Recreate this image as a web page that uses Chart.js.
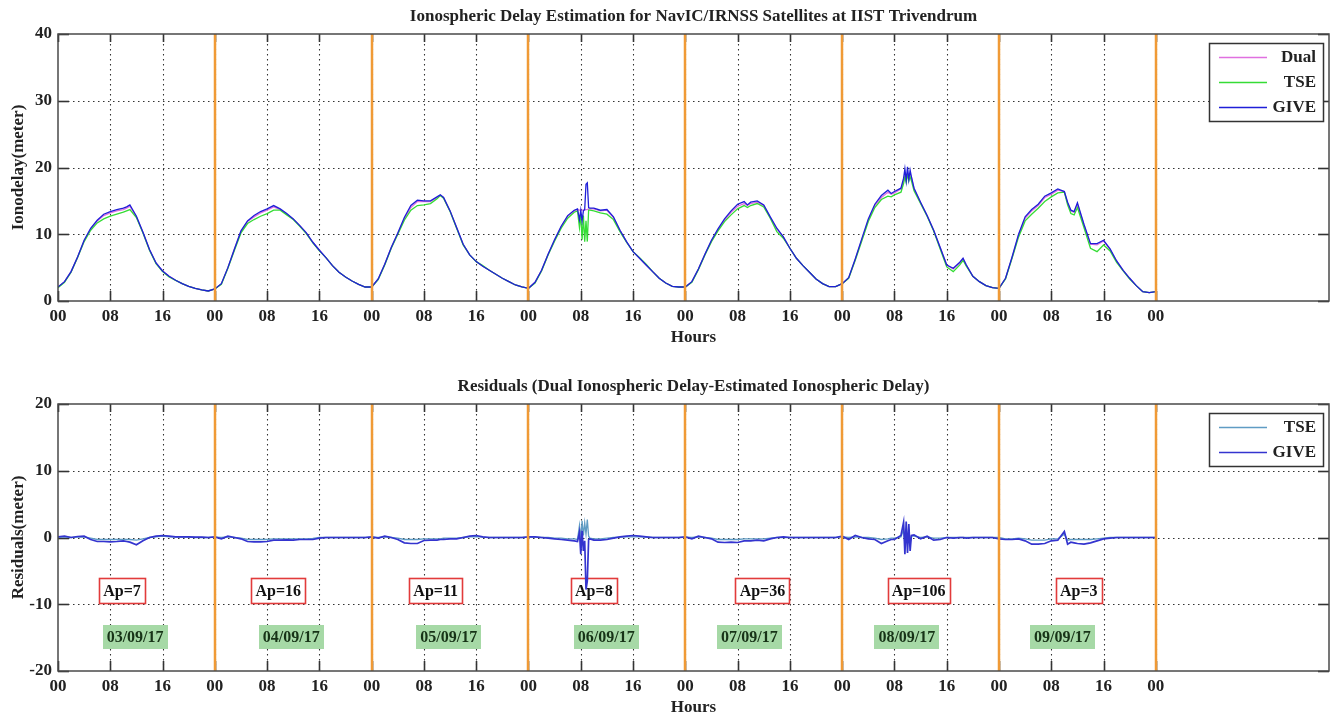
<!DOCTYPE html>
<html>
<head>
<meta charset="utf-8">
<title>Ionospheric Delay Estimation</title>
<script src="https://cdn.jsdelivr.net/npm/chart.js@4.4.1/dist/chart.umd.min.js"></script>
<style>
  html, body { margin: 0; padding: 0; background: #fff; }
  #wrap { position: relative; width: 1333px; height: 716px; }
  .panel { position: absolute; left: 0; width: 1333px; height: 346px; }
  #top { top: 0; }
  #bottom { top: 370px; }
</style>
</head>
<body>
<div id="wrap">
  <div class="panel" id="top"><canvas id="delayChart" width="1333" height="346"></canvas></div>
  <div class="panel" id="bottom"><canvas id="residChart" width="1333" height="346"></canvas></div>
</div>
<script>
// sample times in hours from 03/09/17 00:00 (one row per day)
const hours = [
  0,1,2,3,4,5,6,7,8,9,10,10.5,11,12,13,14,15,16,17,18,19,20,21,22,23,
  24,25,26,27,28,29,30,31,32,33,34,35,36,37,38,39,40,41,42,43,44,45,46,47,
  48,49,50,51,52,53,54,55,56,57,58,58.5,59,60,61,62,63,64,65,66,67,68,69,70,71,
  72,73,74,75,76,77,78,79,79.5,79.8,80,80.2,80.4,80.6,80.8,81,81.2,81.4,82,83,84,85,86,87,88,89,90,91,92,93,94,95,
  96,97,98,99,100,101,102,103,104,105,105.5,106,107,108,109,110,111,112,113,114,115,116,117,118,119,
  120,121,122,123,124,125,126,127,127.5,128,129,129.4,129.6,129.8,130,130.2,130.4,130.6,131,132,133,134,135,136,137,138,138.5,139,140,141,142,143,
  144,145,146,147,148,149,150,151,152,153,154,154.5,155,155.5,156,157,158,159,160,161,162,163,164,165,166,167,168
];

// ionospheric delay (m)
const dualDelay = [
  2.1,2.9,4.4,6.6,9.0,10.8,12.0,12.8,13.2,13.5,13.7,13.9,14.2,12.6,10.3,7.7,5.7,4.5,3.7,3.1,2.6,2.2,1.9,1.65,1.5,
  1.8,2.6,5.0,7.8,10.4,11.9,12.6,13.2,13.6,14.1,13.7,13.0,12.3,11.3,10.2,8.8,7.6,6.5,5.3,4.3,3.6,3.0,2.5,2.1,
  2.1,3.3,5.5,8.0,10.1,12.3,14.0,14.9,14.9,14.9,15.5,15.8,15.5,13.5,11.0,8.5,6.9,5.9,5.2,4.6,4.0,3.4,2.9,2.4,2.1,
  1.9,2.8,4.6,7.0,9.1,11.1,12.7,13.5,13.7,13.6,13.6,13.6,13.6,13.6,13.7,13.7,13.8,13.8,13.8,13.5,13.6,12.5,10.6,8.9,7.4,6.4,5.4,4.4,3.4,2.7,2.2,2.1,
  2.1,2.9,4.8,7.0,9.0,10.7,12.1,13.3,14.2,14.6,14.3,14.6,14.8,14.3,12.5,10.8,9.6,7.9,6.4,5.3,4.3,3.3,2.6,2.15,2.15,
  2.6,3.5,6.2,9.2,12.1,14.3,15.5,16.3,16.0,16.2,16.8,18.0,18.9,18.6,19.2,18.8,19.0,18.5,16.8,14.7,12.8,10.6,8.0,5.4,4.8,5.7,6.3,5.4,3.7,2.9,2.3,2.0,
  1.9,3.4,6.5,9.9,12.4,13.5,14.3,15.5,16.0,16.6,16.4,14.7,13.5,13.3,14.5,11.4,8.5,8.4,9.0,7.7,6.0,4.6,3.4,2.3,1.4,1.25,1.4
];
const tseDelay = [
  2.0,2.8,4.3,6.5,8.9,10.6,11.7,12.3,12.7,13.0,13.3,13.5,13.7,12.5,10.2,7.6,5.6,4.4,3.6,3.1,2.6,2.2,1.9,1.65,1.5,
  1.8,2.5,4.9,7.6,10.2,11.6,12.2,12.7,13.1,13.6,13.6,12.9,12.2,11.2,10.1,8.7,7.5,6.5,5.3,4.3,3.6,3.0,2.5,2.1,
  2.1,3.2,5.4,7.9,10.0,12.1,13.6,14.3,14.4,14.6,15.3,15.8,15.4,13.4,10.9,8.4,6.9,5.9,5.3,4.6,4.0,3.4,2.9,2.4,2.1,
  1.9,2.7,4.5,6.9,9.0,10.9,12.4,13.3,13.5,11.0,13.0,9.2,12.8,8.9,12.0,8.9,13.6,13.6,13.5,13.2,13.0,12.2,10.4,8.8,7.4,6.5,5.5,4.4,3.4,2.7,2.2,2.1,
  2.1,2.8,4.7,6.9,8.9,10.5,11.9,12.9,13.8,14.3,14.0,14.3,14.6,14.1,12.4,10.4,9.4,7.9,6.4,5.3,4.3,3.3,2.6,2.15,2.15,
  2.6,3.4,6.1,9.0,11.9,14.0,15.2,15.7,15.6,15.9,16.3,17.6,18.6,17.8,19.0,18.0,18.6,18.0,16.5,14.6,12.7,10.5,7.8,5.1,4.4,5.4,6.1,5.2,3.7,2.9,2.3,2.0,
  1.9,3.3,6.4,9.6,12.0,13.0,13.9,14.9,15.6,16.2,16.3,14.4,13.1,12.9,14.0,11.0,7.9,7.4,8.4,7.5,5.8,4.5,3.3,2.3,1.4,1.25,1.4
];
const giveDelay = [
  2.1,2.9,4.4,6.6,9.1,10.9,12.1,13.0,13.4,13.7,13.9,14.1,14.4,12.7,10.3,7.7,5.7,4.5,3.7,3.1,2.6,2.2,1.9,1.65,1.5,
  1.8,2.6,5.0,7.8,10.5,12.0,12.8,13.4,13.8,14.3,13.8,13.1,12.3,11.3,10.2,8.8,7.6,6.5,5.3,4.3,3.6,3.0,2.5,2.1,
  2.1,3.3,5.5,8.0,10.2,12.5,14.3,15.1,15.0,15.0,15.6,15.9,15.5,13.5,11.0,8.5,6.9,5.9,5.2,4.6,4.0,3.4,2.9,2.4,2.1,
  1.9,2.8,4.6,7.0,9.2,11.2,12.8,13.6,13.8,12.2,13.6,12.0,13.5,13.7,17.5,17.7,14.0,13.9,13.9,13.6,13.7,12.6,10.6,8.9,7.4,6.4,5.4,4.4,3.4,2.7,2.2,2.1,
  2.1,2.9,4.8,7.0,9.1,10.8,12.3,13.5,14.5,14.9,14.4,14.8,15.0,14.4,12.6,10.9,9.6,7.9,6.4,5.3,4.3,3.3,2.6,2.15,2.15,
  2.6,3.5,6.3,9.3,12.3,14.5,15.8,16.6,16.1,16.4,16.9,18.4,19.8,18.0,20.1,18.2,19.6,18.6,16.9,14.8,12.8,10.6,8.0,5.4,4.9,5.8,6.4,5.4,3.7,2.9,2.3,2.0,
  1.9,3.4,6.6,10.0,12.6,13.7,14.5,15.7,16.2,16.8,16.4,14.8,13.6,13.4,14.7,11.5,8.6,8.6,9.1,7.8,6.0,4.6,3.4,2.3,1.4,1.25,1.4
];

// residuals: dual-frequency delay minus estimated delay (m)
const tseResidual = [
  0.05,0.1,0.0,0.05,0.1,-0.1,-0.3,-0.3,-0.3,-0.3,-0.3,-0.3,-0.3,-0.4,-0.2,0.0,0.1,0.2,0.1,0.05,0.05,0.05,0.0,0.0,0.0,
  0.05,0.0,0.1,0.0,-0.1,-0.3,-0.3,-0.3,-0.3,-0.2,-0.2,-0.2,-0.2,-0.2,-0.2,-0.15,0.0,0.0,0.0,0.0,0.0,0.0,0.0,0.0,
  0.05,0.0,0.1,0.0,-0.1,-0.3,-0.3,-0.3,-0.2,-0.2,-0.2,-0.2,-0.1,-0.1,-0.1,0.0,0.1,0.15,0.05,0.0,0.0,0.0,0.0,0.0,0.0,
  0.05,0.05,0.0,0.0,-0.1,-0.1,-0.2,-0.2,-0.3,1.8,-0.4,2.5,0.3,2.2,0.5,2.7,0.2,-0.1,-0.2,-0.2,-0.1,0.0,0.05,0.1,0.1,0.1,0.05,0.0,0.0,0.0,0.0,0.0,
  0.05,0.0,0.1,0.0,-0.1,-0.3,-0.3,-0.3,-0.3,-0.2,-0.2,-0.2,-0.2,-0.2,-0.1,0.0,0.0,0.0,0.0,0.0,0.0,0.0,0.0,0.0,0.0,
  0.1,0.0,0.1,0.0,0.0,-0.1,-0.3,-0.2,-0.1,-0.1,0.1,1.2,-1.0,1.3,-1.0,1.0,-0.8,0.2,0.2,0.0,0.1,-0.1,-0.1,0.0,0.0,0.0,0.0,0.0,0.0,0.0,0.0,0.0,
  0.0,-0.2,-0.2,-0.1,-0.2,-0.4,-0.4,-0.4,-0.2,-0.2,0.5,-0.4,-0.3,-0.3,-0.3,-0.3,-0.3,-0.2,-0.1,0.0,0.0,0.0,0.0,0.0,0.0,0.0,0.0
];
const giveResidual = [
  0.1,0.2,0.0,0.15,0.2,-0.3,-0.6,-0.6,-0.65,-0.6,-0.5,-0.6,-0.7,-1.1,-0.5,0.0,0.2,0.3,0.2,0.1,0.1,0.1,0.05,0.05,0.0,
  0.1,-0.2,0.2,0.0,-0.2,-0.6,-0.65,-0.65,-0.6,-0.4,-0.4,-0.35,-0.4,-0.3,-0.3,-0.3,-0.1,0.0,0.0,0.0,0.0,0.0,0.0,0.0,
  0.1,-0.1,0.2,0.0,-0.3,-0.8,-0.9,-0.9,-0.45,-0.4,-0.4,-0.3,-0.3,-0.2,-0.2,0.0,0.2,0.3,0.1,0.0,0.0,0.0,0.0,0.0,0.0,
  0.1,0.1,0.0,-0.1,-0.2,-0.3,-0.4,-0.5,-0.6,0.8,-2.5,1.0,-2.0,-0.5,-7.8,-6.5,-0.3,-0.2,-0.4,-0.4,-0.3,-0.1,0.1,0.2,0.3,0.2,0.1,0.0,0.0,0.0,0.0,0.0,
  0.1,-0.2,0.2,0.0,-0.2,-0.7,-0.75,-0.7,-0.75,-0.5,-0.5,-0.5,-0.4,-0.5,-0.2,0.0,0.1,0.0,0.0,0.0,0.0,0.0,0.0,0.0,0.0,
  0.2,-0.3,0.3,0.0,-0.2,-0.3,-0.9,-0.5,-0.3,-0.3,0.3,2.3,-2.5,2.4,-2.3,2.0,-2.0,0.3,0.4,-0.2,0.2,-0.4,-0.3,0.0,-0.1,0.0,0.0,-0.1,0.0,0.0,0.0,0.0,
  -0.2,-0.3,-0.3,-0.2,-0.5,-1.0,-1.0,-0.9,-0.5,-0.4,0.9,-1.0,-0.7,-0.8,-0.9,-1.0,-0.8,-0.5,-0.2,-0.1,0.0,0.0,0.0,0.0,0.0,0.0,0.0
];

const hourTicks = [0,8,16,24,32,40,48,56,64,72,80,88,96,104,112,120,128,136,144,152,160,168];
const dayStarts = [24,48,72,96,120,144,168];
const delayTicks = [0,10,20,30,40];
const residualTicks = [-20,-10,0,10,20];
const apLabels = ['Ap=7','Ap=16','Ap=11','Ap=8','Ap=36','Ap=106','Ap=3'];
const dateLabels = ['03/09/17','04/09/17','05/09/17','06/09/17','07/09/17','08/09/17','09/09/17'];

const FONT = '"Liberation Serif", "DejaVu Serif", serif';
const INK = '#222';
const SIZE = 17;

const xy = vals => vals.map((v, i) => ({ x: hours[i], y: v }));

// dotted grid, inward ticks, day separators, frame and the boxed legend
const framePlugin = {
  id: 'frame',
  beforeDatasetsDraw(chart, args, opts) {
    const { ctx, chartArea: a, scales: { x, y } } = chart;
    const line = (x1, y1, x2, y2) => { ctx.beginPath(); ctx.moveTo(x1, y1); ctx.lineTo(x2, y2); ctx.stroke(); };
    ctx.save();
    ctx.strokeStyle = '#333';
    ctx.lineWidth = 1.1;
    ctx.setLineDash([1.5, 3.5]);
    hourTicks.forEach(h => {
      if (h === 0) return;
      const px = Math.round(x.getPixelForValue(h)) + 0.5;
      line(px, a.top, px, a.bottom);
    });
    opts.yTicks.forEach(v => {
      const py = Math.round(y.getPixelForValue(v)) + 0.5;
      if (py <= a.top + 1 || py >= a.bottom - 1) return;
      line(a.left, py, a.right, py);
    });
    ctx.setLineDash([]);
    ctx.strokeStyle = '#333';
    ctx.lineWidth = 1.6;
    hourTicks.forEach(h => {
      const px = Math.round(x.getPixelForValue(h)) + 0.5;
      line(px, a.bottom, px, a.bottom - 10);
      line(px, a.top, px, a.top + 8);
    });
    opts.yTicks.forEach(v => {
      const py = Math.round(y.getPixelForValue(v)) + 0.5;
      line(a.left, py, a.left + 11, py);
      line(a.right, py, a.right - 11, py);
    });

    // Ap index and date boxes
    ctx.font = 'bold 16px ' + FONT;
    ctx.textAlign = 'center';
    ctx.textBaseline = 'middle';
    (opts.notes || []).forEach(n => {
      const cx = x.getPixelForValue(n.x);
      const cy = y.getPixelForValue(n.y);
      const w = Math.round(ctx.measureText(n.text).width + 8);
      const h = n.boxed ? 25 : 24;
      const left = Math.round(cx - w / 2), top = Math.round(cy - h / 2);
      if (n.boxed) {
        ctx.fillStyle = '#fff';
        ctx.fillRect(left, top, w, h);
        ctx.strokeStyle = '#e23b3b';
        ctx.lineWidth = 1.6;
        ctx.strokeRect(left + 0.5, top + 0.5, w, h);
        ctx.fillStyle = '#111';
      } else {
        ctx.fillStyle = '#a6d9a6';
        ctx.fillRect(left, top, w, h);
        ctx.fillStyle = '#173317';
      }
      ctx.fillText(n.text, cx, cy + 1);
    });
    ctx.restore();
  },
  afterDatasetsDraw(chart, args, opts) {
    const { ctx, chartArea: a, scales: { x } } = chart;
    ctx.save();
    ctx.strokeStyle = '#f09a36';
    ctx.lineWidth = 2.5;
    dayStarts.forEach(h => {
      const px = Math.round(x.getPixelForValue(h));
      ctx.beginPath(); ctx.moveTo(px, a.top); ctx.lineTo(px, a.bottom); ctx.stroke();
    });
    ctx.strokeStyle = '#4a4a4a';
    ctx.lineWidth = 1.5;
    ctx.strokeRect(a.left, a.top, a.right - a.left, a.bottom - a.top);

    // legend box, labels right aligned after the line sample
    const sets = chart.data.datasets;
    const bw = 114, bh = 28 + (sets.length - 1) * 25;
    const bx = a.right - 6 - bw, by = a.top + 9;
    ctx.fillStyle = '#fff';
    ctx.fillRect(bx, by, bw, bh);
    ctx.strokeStyle = '#333';
    ctx.lineWidth = 1.5;
    ctx.strokeRect(bx + 0.5, by + 0.5, bw, bh);
    ctx.font = 'bold ' + SIZE + 'px ' + FONT;
    ctx.textAlign = 'right';
    ctx.textBaseline = 'middle';
    sets.forEach((d, i) => {
      const ry = by + 14 + i * 25;
      ctx.strokeStyle = d.borderColor;
      ctx.lineWidth = 1.5;
      ctx.beginPath(); ctx.moveTo(bx + 10, ry + 0.5); ctx.lineTo(bx + 58, ry + 0.5); ctx.stroke();
      ctx.fillStyle = INK;
      ctx.fillText(d.label, bx + bw - 7, ry + 1);
    });
    ctx.restore();
  }
};

function panelOptions(titleText, yTitle, yMin, yMax, yTicks, notes) {
  const font = { family: FONT, size: SIZE, weight: 'bold' };
  return {
    responsive: false,
    animation: false,
    devicePixelRatio: 1,
    layout: { padding: { left: 0, right: 4, top: 0, bottom: 0 } },
    elements: { point: { radius: 0 }, line: { tension: 0, borderWidth: 1.3 } },
    plugins: {
      legend: { display: false },
      tooltip: { enabled: false },
      title: {
        display: true, text: titleText, fullSize: false, color: INK, font: font,
        padding: { top: 6, bottom: 7.6 }
      },
      frame: { yTicks: yTicks, notes: notes }
    },
    scales: {
      x: {
        type: 'linear', min: 0, max: 194.5,
        afterBuildTicks: s => { s.ticks = hourTicks.map(v => ({ value: v })); },
        afterFit: s => { s.height = 45; },
        grid: { display: false, drawTicks: false },
        border: { display: false },
        ticks: {
          padding: 5, color: INK, maxRotation: 0, autoSkip: false, font: font,
          callback: v => String(v % 24).padStart(2, '0')
        },
        title: { display: true, text: 'Hours', color: INK, font: font, padding: { top: 0, bottom: -2 } }
      },
      y: {
        min: yMin, max: yMax,
        afterBuildTicks: s => { s.ticks = yTicks.map(v => ({ value: v })); },
        afterFit: s => { s.width = 58; },
        grid: { display: false, drawTicks: false },
        border: { display: false },
        ticks: { padding: 6, color: INK, font: font },
        title: { display: true, text: yTitle, color: INK, font: font, padding: { top: 8, bottom: 0 } }
      }
    }
  };
}

new Chart(document.getElementById('delayChart'), {
  type: 'line',
  data: {
    datasets: [
      { label: 'Dual', data: xy(dualDelay), borderColor: '#e070e0', order: 2 },
      { label: 'TSE', data: xy(tseDelay), borderColor: '#35dc35', order: 1 },
      { label: 'GIVE', data: xy(giveDelay), borderColor: '#1f1fd8', order: 0 }
    ]
  },
  options: panelOptions('Ionospheric Delay Estimation for NavIC/IRNSS Satellites at IIST Trivendrum',
    'Ionodelay(meter)', 0, 40, delayTicks, []),
  plugins: [framePlugin]
});

// label positions (hour, residual) for the Ap index and date tags
const apAt = [9.8, 33.7, 57.8, 82.0, 107.8, 131.7, 156.2];
const dateAt = [11.8, 35.7, 59.8, 83.9, 105.8, 129.9, 153.7];
const residNotes = []
  .concat(apLabels.map((t, i) => ({ text: t, x: apAt[i], y: -8.0, boxed: true })))
  .concat(dateLabels.map((t, i) => ({ text: t, x: dateAt[i], y: -14.9, boxed: false })));

new Chart(document.getElementById('residChart'), {
  type: 'line',
  data: {
    datasets: [
      { label: 'TSE', data: xy(tseResidual), borderColor: '#5f9cc4', order: 1 },
      { label: 'GIVE', data: xy(giveResidual), borderColor: '#3434cf', borderWidth: 1.7, order: 0 }
    ]
  },
  options: panelOptions('Residuals (Dual Ionospheric Delay-Estimated Ionospheric Delay)',
    'Residuals(meter)', -20, 20, residualTicks, residNotes),
  plugins: [framePlugin]
});
</script>
</body>
</html>
